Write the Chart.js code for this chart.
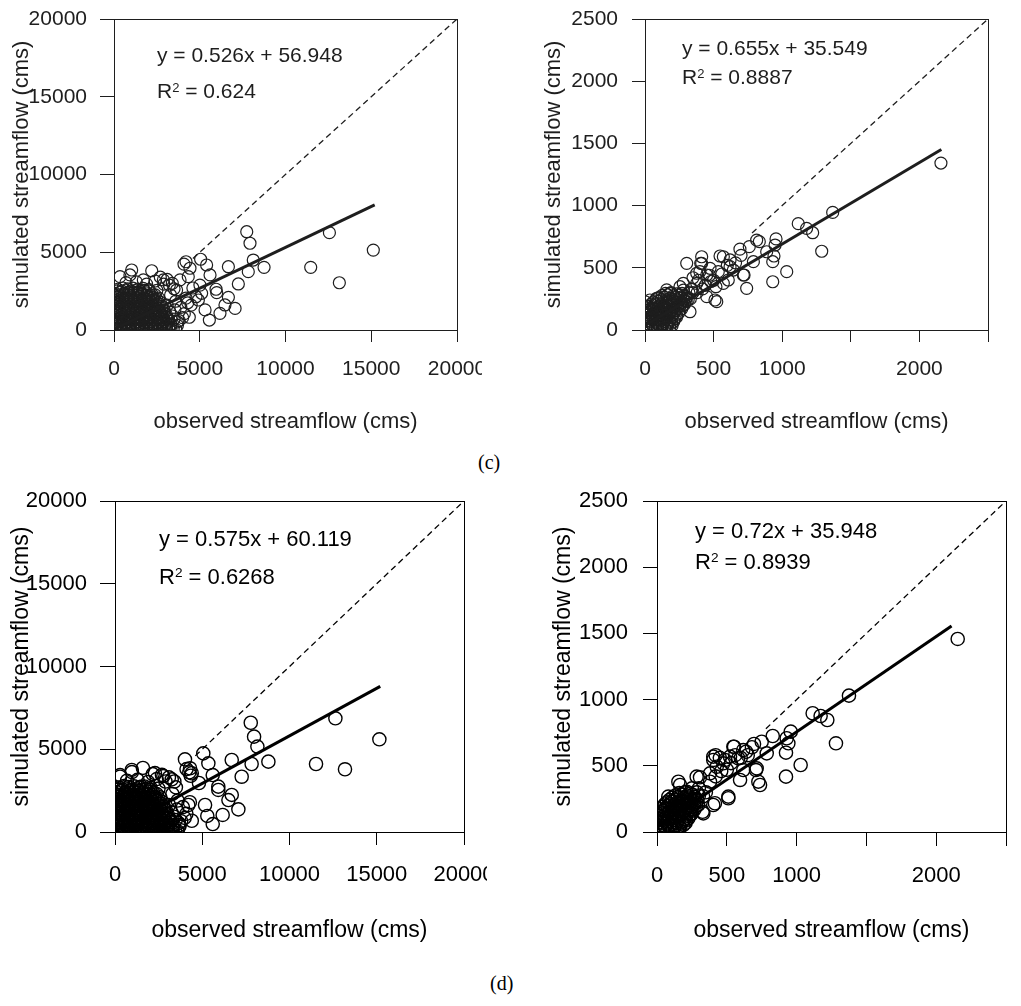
<!DOCTYPE html>
<html>
<head>
<meta charset="utf-8">
<title>observed vs simulated streamflow</title>
<script src="https://cdn.jsdelivr.net/npm/chart.js@4.4.1/dist/chart.umd.min.js"></script>
<style>
  body { margin: 0; background: #fff; }
  #fig { position: relative; width: 1021px; height: 1006px; overflow: hidden; font-family: "Liberation Sans", Arial, sans-serif; }
  #fig canvas { position: absolute; }
  .eq { position: absolute; white-space: nowrap; line-height: 1; }
  .eq sup { font-size: 0.62em; vertical-align: 0.5em; line-height: 0; }
  .tag { position: absolute; font-family: "Liberation Serif", "Times New Roman", serif; font-size: 20px; line-height: 1; }
</style>
</head>
<body>
<div id="fig">
  <canvas id="cLeft"  width="482" height="440" style="left:0;top:0"></canvas>
  <canvas id="cRight" width="491" height="440" style="left:530px;top:0"></canvas>
  <canvas id="dLeft"  width="487" height="500" style="left:0;top:480px"></canvas>
  <canvas id="dRight" width="491" height="500" style="left:530px;top:480px"></canvas>

  <div class="eq" style="left:157px;top:44px;font-size:21px;color:#1e1e1e">y = 0.526x + 56.948</div>
  <div class="eq" style="left:157px;top:80px;font-size:21px;color:#1e1e1e">R<sup>2</sup> = 0.624</div>
  <div class="eq" style="left:682px;top:37px;font-size:21px;color:#1e1e1e">y = 0.655x + 35.549</div>
  <div class="eq" style="left:682px;top:66px;font-size:21px;color:#1e1e1e">R<sup>2</sup> = 0.8887</div>
  <div class="eq" style="left:159px;top:528px;font-size:22px">y = 0.575x + 60.119</div>
  <div class="eq" style="left:159px;top:566px;font-size:22px">R<sup>2</sup> = 0.6268</div>
  <div class="eq" style="left:695px;top:520px;font-size:22px">y = 0.72x + 35.948</div>
  <div class="eq" style="left:695px;top:551px;font-size:22px">R<sup>2</sup> = 0.8939</div>

  <div class="tag" style="left:478px;top:452px">(c)</div>
  <div class="tag" style="left:490px;top:973px">(d)</div>
</div>

<script>
// ---------- data ----------
const bigTicks = [0, 5000, 10000, 15000, 20000];
const smallTicks = [0, 500, 1000, 1500, 2000, 2500];
const smallXLabelled = [0, 500, 1000, 2000];   // 1500 and 2500 carry no label

// slope, intercept, last observed x
const cLeftFit  = [0.526, 56.948, 15200];
const cRightFit = [0.655, 35.549, 2160];
const dLeftFit  = [0.575, 60.119, 15200];
const dRightFit = [0.72, 35.948, 2110];

// visible part of the 1:1 line
const bigDiag = [4600, 20000];
const smallDiag = [780, 2500];

// (c) left: [observed, simulated]
const cLeftPts = [
  [80,120],[330,190],[590,110],[850,170],[1110,130],[1370,200],[1630,100],[1890,160],[2150,130],[2410,190],[2670,110],[2930,170],[3190,140],[3450,90],
  [200,430],[460,380],[720,460],[980,400],[1240,440],[1500,370],[1760,450],[2020,410],[2280,380],[2540,460],[2800,400],[3060,440],[3320,380],[3700,520],
  [60,690],[320,740],[580,660],[840,720],[1100,680],[1360,750],[1620,700],[1880,660],[2140,730],[2400,690],[2660,740],[2920,670],[3180,720],
  [190,960],[450,1010],[710,950],[970,1000],[1230,970],[1490,1020],[1750,940],[2010,990],[2270,960],[2530,1010],[2790,950],[3050,990],[3400,900],
  [70,1240],[330,1290],[590,1230],[850,1280],[1110,1250],[1370,1300],[1630,1220],[1890,1270],[2150,1240],[2410,1290],[2670,1230],[2930,1270],
  [200,1520],[460,1570],[720,1510],[980,1560],[1240,1530],[1500,1580],[1760,1500],[2020,1550],[2280,1520],[2540,1570],[2800,1510],[3100,1600],
  [80,1800],[340,1850],[600,1790],[860,1840],[1120,1810],[1380,1860],[1640,1780],[1900,1830],[2160,1800],[2420,1850],[2700,1790],
  [210,2080],[470,2130],[730,2070],[990,2120],[1250,2090],[1510,2140],[1770,2060],[2030,2110],[2290,2080],[2600,2050],
  [90,2360],[350,2410],[610,2350],[870,2400],[1130,2370],[1390,2420],[1650,2340],[1910,2390],[2200,2330],
  [230,2620],[520,2700],[800,2640],[1100,2690],[1400,2630],[1700,2680],[2050,2600],[2500,2550],
  [200,30],[460,40],[720,20],[980,35],[1240,25],[1500,40],[1760,30],[2020,20],[2280,35],[2540,25],[2800,40],[3060,30],[3320,25],[3600,40],
  [200,280],[460,300],[720,260],[980,290],[1240,270],[1500,310],[1760,280],[2020,260],[2280,300],[2540,270],[2800,290],[3060,260],[3320,300],
  [70,560],[330,540],[590,580],[850,550],[1110,570],[1370,540],[1630,590],[1890,560],[2150,540],[2410,580],[2670,560],[2930,540],[3190,580],[3500,700],
  [200,840],[460,820],[720,860],[980,830],[1240,850],[1500,820],[1760,870],[2020,840],[2280,820],[2540,860],[2800,840],[3060,820],
  [70,1120],[330,1100],[590,1140],[850,1110],[1110,1130],[1370,1100],[1630,1150],[1890,1120],[2150,1100],[2410,1140],[2670,1120],[2950,1100],[3250,1150],
  [200,1400],[460,1380],[720,1420],[980,1390],[1240,1410],[1500,1380],[1760,1430],[2020,1400],[2280,1380],[2540,1420],[2800,1400],
  [70,1680],[330,1660],[590,1700],[850,1670],[1110,1690],[1370,1660],[1630,1710],[1890,1680],[2150,1660],[2410,1700],[2650,1680],
  [200,1960],[460,1940],[720,1980],[980,1950],[1240,1970],[1500,1940],[1760,1990],[2020,1960],[2280,1940],[2500,1980],
  [70,2240],[330,2220],[590,2260],[850,2230],[1110,2250],[1370,2220],[1630,2270],[1890,2240],[2150,2220],[2400,2260],
  [200,2520],[460,2500],[720,2540],[980,2510],[1240,2530],[1500,2500],[1760,2550],[2020,2520],
  [3300,2250],[3600,1850],[3900,1450],[4100,1050],[3800,600],[4300,1750],[3500,2650],[2900,2950],[2400,3150],[1900,2950],
  [1300,3100],[700,3050],[2700,3400],[3100,3250],[3700,300],[4000,800],[3550,1300],[4500,1600],[4200,2050],[3400,3000],
  [7740,6320],[7930,5580],[12560,6260],[15120,5140],[11470,4030],[13140,3040],[8750,4030],[8120,4500],[7830,3750],[7250,2960],
  [6670,4070],[6670,2100],[7060,1390],[6180,1070],[5560,640],[4390,820],[5950,2620],[5990,2400],[5600,3540],[5400,4180],
  [5050,4550],[4200,4390],[4080,4240],[4430,3970],[4330,3430],[3850,3220],[5110,2360],[5310,1290],[6470,1610],[4920,1930],
  [350,3430],[1030,3860],[2200,3810],[930,3540],[2880,3220],[1710,3220],[3230,2890],[3650,2570],[5010,2890],[4780,2140],[4600,2700]
];

// (c) right
const cRightPts = [
  [5,15],[40,20],[75,10],[110,25],[145,15],[180,20],
  [20,50],[55,45],[90,55],[125,50],[160,45],[195,55],
  [5,85],[40,90],[75,80],[110,90],[145,85],[180,80],[215,90],
  [20,120],[55,125],[90,115],[125,120],[160,125],[195,115],[230,120],
  [10,155],[45,160],[80,150],[115,155],[150,160],[185,150],[220,155],[255,160],
  [30,190],[65,195],[100,185],[135,190],[170,195],[205,185],[240,190],[275,195],
  [60,225],[95,230],[130,220],[165,225],[200,230],[235,220],[270,225],[300,230],
  [100,260],[140,265],[180,255],[220,260],[260,265],[300,255],
  [150,295],[190,300],[230,290],[270,295],[320,300],
  [22,32],[57,35],[92,28],[127,38],[162,30],[197,35],
  [5,68],[38,70],[72,65],[107,72],[142,68],[177,65],[210,70],
  [22,102],[57,105],[92,100],[127,108],[162,102],[197,98],[230,104],
  [5,138],[37,140],[72,135],[107,142],[142,138],[177,135],[212,140],[245,136],
  [25,172],[60,175],[95,170],[130,178],[165,172],[200,168],[235,174],[268,170],
  [45,208],[80,210],[115,205],[150,212],[185,208],[220,205],[255,210],[288,206],
  [80,243],[120,245],[160,240],[200,248],[240,242],[280,240],[315,246],
  [125,278],[165,282],[205,275],[245,280],[285,276],[10,190],[5,225],
  [280,320],[340,330],[390,400],[440,360],[470,440],[500,400],[560,450],[600,520],[660,540],[700,600],[400,470],[350,420],
  [1368,945],[1117,855],[1178,817],[1222,782],[1288,633],[833,710],[955,732],[948,683],[940,595],[931,549],
  [1033,469],[931,388],[741,335],[760,670],[692,650],[790,549],[722,442],[547,595],[406,536],[620,563],
  [510,241],[328,147],[517,348],[607,402],[450,442],[279,375],[158,322],[85,255],[413,536],[474,496],
  [534,469],[377,375],[255,348],[304,268],[182,295],[450,268],[523,228],[134,161],[571,375],[644,482],
  [717,442],[814,723],[887,629],[304,536],[413,589],[377,456],[571,589],[620,509],[2157,1342],[36,241],
  [350,300],[420,330],[480,390],[380,300],[260,220],[330,250]
];

// (d) left
const dLeftPts = [
  [60,140],[320,200],[580,120],[840,180],[1100,140],[1360,210],[1620,110],[1880,170],[2140,140],[2400,200],[2660,120],[2920,180],[3180,150],[3440,100],
  [190,440],[450,390],[710,470],[970,410],[1230,450],[1490,380],[1750,460],[2010,420],[2270,390],[2530,470],[2790,410],[3050,450],[3310,390],[3650,540],
  [50,700],[310,750],[570,670],[830,730],[1090,690],[1350,760],[1610,710],[1870,670],[2130,740],[2390,700],[2650,750],[2910,680],[3170,730],
  [180,980],[440,1030],[700,970],[960,1020],[1220,990],[1480,1040],[1740,960],[2000,1010],[2260,980],[2520,1030],[2780,970],[3040,1010],[3380,920],
  [60,1260],[320,1310],[580,1250],[840,1300],[1100,1270],[1360,1320],[1620,1240],[1880,1290],[2140,1260],[2400,1310],[2660,1250],[2920,1290],
  [190,1550],[450,1600],[710,1540],[970,1590],[1230,1560],[1490,1610],[1750,1530],[2010,1580],[2270,1550],[2530,1600],[2790,1540],[3090,1630],
  [70,1830],[330,1880],[590,1820],[850,1870],[1110,1840],[1370,1890],[1630,1810],[1890,1860],[2150,1830],[2410,1880],[2690,1820],
  [200,2120],[460,2170],[720,2110],[980,2160],[1240,2130],[1500,2180],[1760,2100],[2020,2150],[2280,2120],[2590,2090],
  [80,2410],[340,2460],[600,2400],[860,2450],[1120,2420],[1380,2470],[1640,2390],[1900,2440],[2190,2380],
  [220,2690],[510,2770],[790,2710],[1090,2760],[1390,2700],[1690,2750],[2040,2670],[2490,2620],
  [190,40],[450,30],[710,50],[970,25],[1230,45],[1490,30],[1750,50],[2010,35],[2270,20],[2530,45],[2790,30],[3050,40],[3310,25],[3580,45],
  [190,300],[450,290],[710,320],[970,270],[1230,310],[1490,280],[1750,320],[2010,290],[2270,270],[2530,310],[2790,280],[3050,300],[3310,270],
  [60,580],[320,560],[580,600],[840,570],[1100,590],[1360,560],[1620,610],[1880,580],[2140,560],[2400,600],[2660,580],[2920,560],[3180,600],[3480,720],
  [190,860],[450,840],[710,880],[970,850],[1230,870],[1490,840],[1750,890],[2010,860],[2270,840],[2530,880],[2790,860],[3050,840],
  [60,1140],[320,1120],[580,1160],[840,1130],[1100,1150],[1360,1120],[1620,1170],[1880,1140],[2140,1120],[2400,1160],[2660,1140],[2940,1120],[3240,1170],
  [190,1420],[450,1400],[710,1440],[970,1410],[1230,1430],[1490,1400],[1750,1450],[2010,1420],[2270,1400],[2530,1440],[2790,1420],
  [60,1700],[320,1680],[580,1720],[840,1690],[1100,1710],[1360,1680],[1620,1730],[1880,1700],[2140,1680],[2400,1720],[2640,1700],
  [190,1990],[450,1970],[710,2010],[970,1980],[1230,2000],[1490,1970],[1750,2020],[2010,1990],[2270,1970],[2490,2010],
  [60,2270],[320,2250],[580,2290],[840,2260],[1100,2280],[1360,2250],[1620,2300],[1880,2270],[2140,2250],[2390,2290],
  [190,2560],[450,2540],[710,2580],[970,2550],[1230,2570],[1490,2540],[1750,2590],[2010,2560],
  [3290,2300],[3590,1900],[3890,1500],[4090,1100],[3790,650],[4290,1800],[3490,2700],[2890,3050],[2390,3200],[1890,3020],
  [1290,3150],[690,3100],[2690,3450],[3090,3300],[3690,330],[3990,850],[3540,1350],[3400,3050],
  [7780,6600],[7970,5760],[8160,5160],[12630,6870],[15150,5600],[11520,4110],[13180,3790],[8790,4250],[7830,4110],[7260,3340],
  [6690,4350],[5060,4750],[5350,4150],[4010,4390],[4300,3850],[4400,3550],[5600,3440],[5920,2740],[5920,2540],[6690,2240],
  [6500,1930],[7070,1370],[6170,1030],[5600,480],[4400,680],[5160,1630],[5290,970],[3690,420],[4200,1630],[290,3340],
  [960,3750],[1530,2740],[2160,3500],[2770,3380],[3250,3180],[4260,3600],[4100,3800],[4340,3400],[4810,2960],[290,3440],
  [970,3620],[2290,3560],[1600,3870]
];

// (d) right
const dRightPts = [
  [5,15],[40,20],[75,10],[110,25],[145,15],
  [20,50],[55,45],[90,55],[125,50],[160,45],[190,55],
  [5,85],[40,90],[75,80],[110,90],[145,85],[180,80],[210,90],
  [20,120],[55,125],[90,115],[125,120],[160,125],[195,115],[230,120],
  [15,155],[50,160],[85,150],[120,155],[155,160],[190,150],[225,155],[255,160],
  [40,190],[75,195],[110,185],[145,190],[180,195],[215,185],[250,190],[280,195],
  [70,225],[105,230],[140,220],[175,225],[210,230],[245,220],[280,225],
  [110,260],[150,265],[190,255],[230,260],[270,265],
  [160,295],[200,300],[240,290],[285,300],
  [22,32],[57,35],[92,28],[127,38],[162,30],
  [5,68],[38,70],[72,65],[107,72],[142,68],[177,65],[205,70],
  [22,102],[57,105],[92,100],[127,108],[162,102],[197,98],[225,104],
  [5,138],[37,140],[72,135],[107,142],[142,138],[177,135],[212,140],[245,136],
  [25,172],[60,175],[95,170],[130,178],[165,172],[200,168],[235,174],[268,170],
  [55,208],[90,210],[125,205],[160,212],[195,208],[230,205],[265,210],[295,206],
  [90,243],[130,245],[170,240],[210,248],[250,242],[290,240],
  [135,278],[175,282],[215,275],[255,280],[300,276],
  [300,330],[350,300],[380,380],[420,420],[460,460],[500,470],[530,520],[560,580],[600,560],[650,580],
  [680,640],[250,330],[270,250],[330,270],[450,560],[420,580],
  [2154,1458],[1375,1030],[1115,897],[1172,876],[1220,846],[1282,670],[958,758],[929,708],[941,670],[924,599],
  [829,725],[750,682],[786,594],[1029,506],[924,418],[738,355],[709,468],[552,644],[638,606],[695,665],
  [403,544],[487,544],[582,557],[595,393],[511,255],[415,217],[332,141],[165,355],[308,413],[428,493],
  [618,468],[153,380],[284,418],[380,443],[403,569],[475,519],[523,569],[547,644],[618,619],[714,481],
  [726,380],[511,267],[403,204],[327,153],[249,141],[213,304],[81,267]
];

// ---------- drawing ----------
const boxPlugin = {
  id: 'box',
  afterDatasetsDraw(chart, args, opts) {
    const { ctx, chartArea: a } = chart;
    ctx.save();
    ctx.strokeStyle = opts.color;
    ctx.lineWidth = opts.width;
    ctx.strokeRect(Math.round(a.left) + 0.5, Math.round(a.top) + 0.5,
                   Math.round(a.right - a.left), Math.round(a.bottom - a.top));
    ctx.restore();
  }
};

function makePanel(id, o) {
  const font = (size) => ({ family: '"Liberation Sans", Arial, sans-serif', size: size, lineHeight: 1.2 });
  new Chart(document.getElementById(id), {
    type: 'scatter',
    data: {
      datasets: [
        { data: [{ x: 0, y: o.fit[1] }, { x: o.fit[2], y: o.fit[0] * o.fit[2] + o.fit[1] }],
          showLine: true, borderColor: o.ink, borderWidth: 3, pointRadius: 0 },
        { data: o.diag.map(v => ({ x: v, y: v })),
          showLine: true, borderColor: o.ink, borderWidth: 1.3, borderDash: [6, 4], pointRadius: 0 },
        { data: o.pts.map(p => ({ x: p[0], y: p[1] })),
          pointRadius: o.r, pointBorderWidth: o.bw, pointBorderColor: o.ink,
          pointBackgroundColor: 'rgba(0,0,0,0)' }
      ]
    },
    options: {
      responsive: false, animation: false, devicePixelRatio: 1, events: [],
      layout: { padding: o.pad },
      plugins: { legend: { display: false }, tooltip: { enabled: false }, box: { color: o.ink, width: 1 } },
      scales: {
        x: {
          type: 'linear', min: 0, max: o.ticks[o.ticks.length - 1],
          afterBuildTicks: s => { s.ticks = o.ticks.map(v => ({ value: v })); },
          afterFit: s => { s.height = o.xH; s.paddingLeft = 0; s.paddingRight = 0; },
          border: { display: false },
          grid: { drawOnChartArea: false, tickLength: o.xTick[0], color: o.ink },
          ticks: { autoSkip: false, maxRotation: 0, minRotation: 0, padding: o.xTick[1], color: o.ink,
                   font: font(o.tickSize), callback: v => o.xLabelled.includes(v) ? String(v) : '' },
          title: { display: true, text: 'observed streamflow (cms)', color: o.ink, font: font(o.titleSize), padding: 0 }
        },
        y: {
          type: 'linear', min: 0, max: o.ticks[o.ticks.length - 1],
          afterBuildTicks: s => { s.ticks = o.ticks.map(v => ({ value: v })); },
          afterFit: s => { s.width = o.yW; s.paddingTop = 0; s.paddingBottom = 0; },
          border: { display: false },
          grid: { drawOnChartArea: false, tickLength: o.yTick[0], color: o.ink },
          ticks: { autoSkip: false, padding: o.yTick[1], color: o.ink, font: font(o.tickSize),
                   callback: v => String(v) },
          title: { display: true, text: 'simulated streamflow (cms)', color: o.ink, font: font(o.titleSize), padding: 0 }
        }
      }
    },
    plugins: [boxPlugin]
  });
}

const topInk = '#1e1e1e';

makePanel('cLeft', {
  pts: cLeftPts, fit: cLeftFit, diag: bigDiag, ticks: bigTicks, xLabelled: bigTicks,
  ink: topInk, r: 6, bw: 1.2, tickSize: 21, titleSize: 22,
  pad: { left: 9, top: 19, right: 25, bottom: 5 }, yW: 105, xH: 105, xTick: [12, 15], yTick: [14, 13]
});
makePanel('cRight', {
  pts: cRightPts, fit: cRightFit, diag: smallDiag, ticks: smallTicks, xLabelled: smallXLabelled,
  ink: topInk, r: 6, bw: 1.2, tickSize: 21, titleSize: 22,
  pad: { left: 11, top: 19, right: 33, bottom: 5 }, yW: 104, xH: 105, xTick: [12, 15], yTick: [13, 14]
});
makePanel('dLeft', {
  pts: dLeftPts, fit: dLeftFit, diag: bigDiag, ticks: bigTicks, xLabelled: bigTicks,
  ink: '#000', r: 6.6, bw: 1.4, tickSize: 22, titleSize: 23,
  pad: { left: 8, top: 21, right: 23, bottom: 36 }, yW: 107, xH: 112, xTick: [13, 17], yTick: [15, 13]
});
makePanel('dRight', {
  pts: dRightPts, fit: dRightFit, diag: smallDiag, ticks: smallTicks, xLabelled: smallXLabelled,
  ink: '#000', r: 6.6, bw: 1.4, tickSize: 22, titleSize: 23,
  pad: { left: 20, top: 21, right: 15, bottom: 36 }, yW: 107, xH: 112, xTick: [14, 17], yTick: [14, 15]
});
</script>
</body>
</html>
